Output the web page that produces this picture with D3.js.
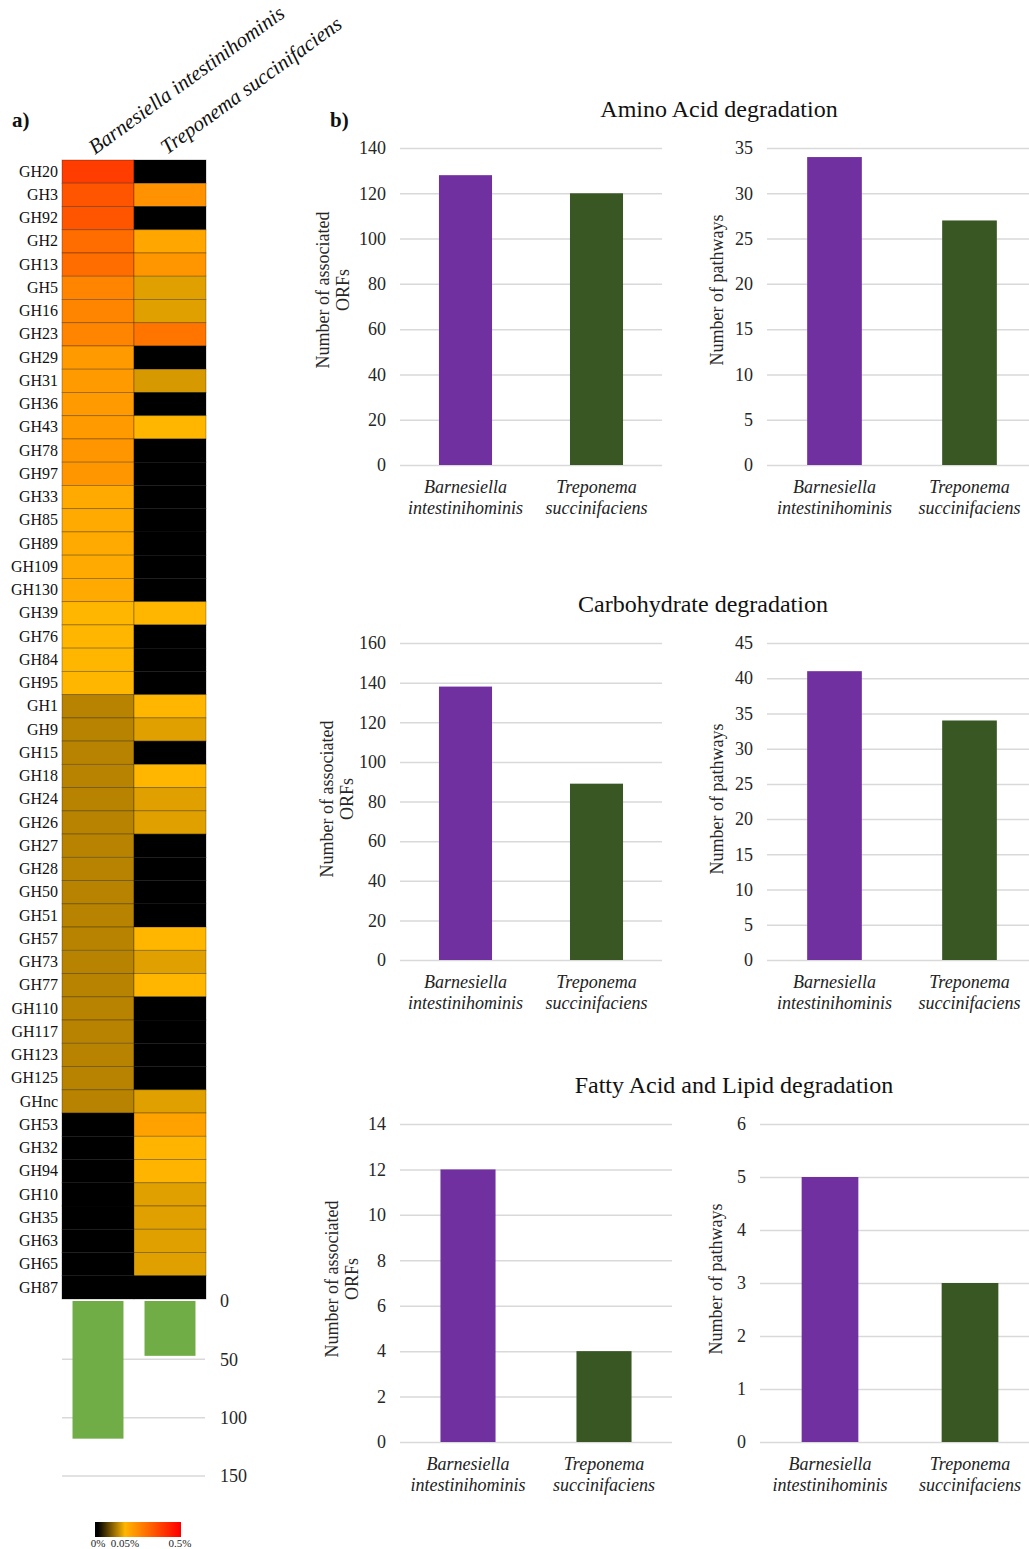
<!DOCTYPE html>
<html>
<head>
<meta charset="utf-8">
<script src="https://cdn.jsdelivr.net/npm/d3@7"></script>
<style>
  body { margin: 0; background: #fff; }
  text { font-family: "Liberation Serif", "Times New Roman", serif; }
</style>
</head>
<body>
<div id="chart"></div>
<script>
const ghFamilies = ["GH20","GH3","GH92","GH2","GH13","GH5","GH16","GH23","GH29","GH31","GH36","GH43",
  "GH78","GH97","GH33","GH85","GH89","GH109","GH130","GH39","GH76","GH84","GH95","GH1","GH9","GH15",
  "GH18","GH24","GH26","GH27","GH28","GH50","GH51","GH57","GH73","GH77","GH110","GH117","GH123",
  "GH125","GHnc","GH53","GH32","GH94","GH10","GH35","GH63","GH65","GH87"];
const species = ["Barnesiella intestinihominis", "Treponema succinifaciens"];
// relative abundance in %
const barnesiellaAbund = [0.35,0.29,0.29,0.23,0.23,0.17,0.17,0.17,0.12,0.12,0.12,0.12,
  0.13,0.13,0.08,0.08,0.08,0.08,0.08,0.05,0.05,0.05,0.05,0.036,0.036,0.036,
  0.036,0.036,0.036,0.036,0.036,0.036,0.036,0.036,0.036,0.036,0.036,0.036,0.036,
  0.036,0.036,0,0,0,0,0,0,0,0];
const treponemaAbund = [0,0.14,0,0.09,0.13,0.044,0.044,0.21,0,0.042,0,0.05,
  0,0,0,0,0,0,0,0.05,0,0,0,0.05,0.044,0,
  0.05,0.044,0.044,0,0,0,0,0.05,0.044,0.05,0,0,0,
  0,0.044,0.1,0.052,0.052,0.044,0.044,0.044,0.044,0];
const ghTotals = [118, 47];
const ghTotalTicks = [0, 50, 100, 150];
const legendTicks = [0, 0.05, 0.5];
const legendLabels = ["0%", "0.05%", "0.5%"];

const categoryLines = [["Barnesiella", "intestinihominis"], ["Treponema", "succinifaciens"]];
const aminoOrfs = [128, 120];
const aminoPathways = [34, 27];
const carbOrfs = [138, 89];
const carbPathways = [41, 34];
const lipidOrfs = [12, 4];
const lipidPathways = [5, 3];

const barColors = ["#7030a0", "#385723"];

const svg = d3.select("#chart")
  .append("svg")
    .attr("width", 1029)
    .attr("height", 1549);

// ---------- a) heatmap ----------
const xCol = d3.scaleBand().domain(species).range([62, 206]);
const yRow = d3.scaleBand().domain(ghFamilies).range([160, 1299]);
const color = d3.scaleLinear()
  .domain([0, 0.05, 0.5])
  .range(["#000000", "#ffb600", "#ff0000"])
  .clamp(true);

const cells = [];
ghFamilies.forEach((g, i) => {
  cells.push({g: g, s: species[0], v: barnesiellaAbund[i]});
  cells.push({g: g, s: species[1], v: treponemaAbund[i]});
});

svg.append("g")
  .selectAll("rect")
  .data(cells)
  .join("rect")
    .attr("x", d => xCol(d.s))
    .attr("y", d => yRow(d.g))
    .attr("width", xCol.bandwidth())
    .attr("height", yRow.bandwidth())
    .attr("fill", d => color(d.v))
    .attr("stroke", "rgba(0,0,0,0.35)")
    .attr("stroke-width", 0.8);

svg.append("g")
  .attr("transform", "translate(62,0)")
  .call(d3.axisLeft(yRow).tickSize(0).tickPadding(4))
  .call(g => g.select(".domain").remove())
  .call(g => g.selectAll("text")
    .attr("font-family", "Liberation Serif, serif")
    .attr("font-size", 16)
    .attr("fill", "#111"));

species.forEach(s => {
  svg.append("text")
    .attr("transform", `translate(${xCol(s) + xCol.bandwidth() / 2 - 3},155) rotate(-36)`)
    .attr("font-size", 21)
    .attr("font-style", "italic")
    .attr("fill", "#111")
    .text(s);
});

svg.append("text").attr("x", 12).attr("y", 127)
  .attr("font-size", 21).attr("font-weight", "bold").attr("fill", "#111").text("a)");
svg.append("text").attr("x", 330).attr("y", 127)
  .attr("font-size", 21).attr("font-weight", "bold").attr("fill", "#111").text("b)");

// totals below heatmap
const xTot = d3.scaleBand().domain(species).range([62, 206]).paddingInner(0.292).paddingOuter(0.146);
const yTot = d3.scaleLinear().domain([0, 150]).range([1301, 1476]);

svg.append("g")
  .selectAll("line")
  .data(ghTotalTicks.filter(t => t > 0))
  .join("line")
    .attr("x1", 62).attr("x2", 205)
    .attr("y1", d => yTot(d)).attr("y2", d => yTot(d))
    .attr("stroke", "#d9d9d9").attr("stroke-width", 1.5);

svg.append("g")
  .selectAll("rect")
  .data(species)
  .join("rect")
    .attr("x", d => xTot(d))
    .attr("y", yTot(0))
    .attr("width", xTot.bandwidth())
    .attr("height", (d, i) => yTot(ghTotals[i]) - yTot(0))
    .attr("fill", "#70ad47");

svg.append("g")
  .attr("transform", "translate(206,0)")
  .call(d3.axisRight(yTot).tickValues(ghTotalTicks).tickSize(0).tickPadding(14))
  .call(g => g.select(".domain").remove())
  .call(g => g.selectAll("text")
    .attr("font-family", "Liberation Serif, serif")
    .attr("font-size", 18)
    .attr("fill", "#262626"));

// colour legend
const legendX = d3.scaleLinear().domain(legendTicks).range([98, 125, 180]);
const grad = svg.append("defs").append("linearGradient")
  .attr("id", "heatgrad")
  .attr("x1", "0%").attr("x2", "100%");
grad.selectAll("stop")
  .data(legendTicks)
  .join("stop")
    .attr("offset", d => (legendX(d) - 95) / 86)
    .attr("stop-color", d => color(d));
svg.append("rect")
  .attr("x", 95).attr("y", 1522)
  .attr("width", 86).attr("height", 15)
  .attr("fill", "url(#heatgrad)");
svg.append("g")
  .selectAll("text")
  .data(legendTicks)
  .join("text")
    .attr("x", d => legendX(d))
    .attr("y", 1547)
    .attr("text-anchor", "middle")
    .attr("font-size", 11)
    .attr("fill", "#222")
    .text((d, i) => legendLabels[i]);

// ---------- b) bar charts ----------
const rows = [
  {title: "Amino Acid degradation", titleX: 719, top: 148, bottom: 465, yTitleY: 290},
  {title: "Carbohydrate degradation", titleX: 703, top: 643, bottom: 960, yTitleY: 799},
  {title: "Fatty Acid and Lipid degradation", titleX: 734, top: 1124, bottom: 1442, yTitleY: 1279}
];

const panels = [
  {row: 0, values: aminoOrfs, max: 140, step: 20, gx0: 400, gx1: 662, bx1: 662, yTitle: ["Number of associated", "ORFs"], yTitleX: 323},
  {row: 0, values: aminoPathways, max: 35, step: 5, gx0: 767, gx1: 1029, bx1: 1037, yTitle: ["Number of pathways"], yTitleX: 717},
  {row: 1, values: carbOrfs, max: 160, step: 20, gx0: 400, gx1: 662, bx1: 662, yTitle: ["Number of associated", "ORFs"], yTitleX: 327},
  {row: 1, values: carbPathways, max: 45, step: 5, gx0: 767, gx1: 1029, bx1: 1037, yTitle: ["Number of pathways"], yTitleX: 717},
  {row: 2, values: lipidOrfs, max: 14, step: 2, gx0: 400, gx1: 672, bx1: 672, yTitle: ["Number of associated", "ORFs"], yTitleX: 332},
  {row: 2, values: lipidPathways, max: 6, step: 1, gx0: 760, gx1: 1029, bx1: 1040, yTitle: ["Number of pathways"], yTitleX: 716}
];

rows.forEach(r => {
  svg.append("text")
    .attr("x", r.titleX).attr("y", r.top - 31)
    .attr("text-anchor", "middle")
    .attr("font-size", 24)
    .attr("fill", "#111")
    .text(r.title);
});

panels.forEach(p => {
  const r = rows[p.row];
  const x = d3.scaleBand().domain(species).range([p.gx0, p.bx1])
    .paddingInner(0.595).paddingOuter(0.2975);
  const y = d3.scaleLinear().domain([0, p.max]).range([r.bottom, r.top]);
  const g = svg.append("g");

  g.append("g")
    .attr("transform", `translate(${p.gx0},0)`)
    .call(d3.axisLeft(y)
      .tickValues(d3.range(0, p.max + p.step / 2, p.step))
      .tickFormat(d3.format("d"))
      .tickSize(-(p.gx1 - p.gx0))
      .tickPadding(14))
    .call(g => g.select(".domain").remove())
    .call(g => g.selectAll(".tick line").attr("stroke", "#d9d9d9").attr("stroke-width", 1.5))
    .call(g => g.selectAll("text")
      .attr("font-family", "Liberation Serif, serif")
      .attr("font-size", 18)
      .attr("fill", "#262626"));

  g.selectAll(".bar")
    .data(species)
    .join("rect")
      .attr("class", "bar")
      .attr("x", d => x(d))
      .attr("y", (d, i) => y(p.values[i]))
      .attr("width", x.bandwidth())
      .attr("height", (d, i) => y(0) - y(p.values[i]))
      .attr("fill", (d, i) => barColors[i]);

  species.forEach((s, i) => {
    const t = g.append("text")
      .attr("text-anchor", "middle")
      .attr("font-size", 18)
      .attr("font-style", "italic")
      .attr("fill", "#222");
    categoryLines[i].forEach((line, k) => {
      t.append("tspan")
        .attr("x", x(s) + x.bandwidth() / 2)
        .attr("y", r.bottom + 28 + k * 21)
        .text(line);
    });
  });

  const yt = g.append("text")
    .attr("transform", `translate(${p.yTitleX + 6},${r.yTitleY}) rotate(-90)`)
    .attr("text-anchor", "middle")
    .attr("font-size", 18)
    .attr("fill", "#262626");
  p.yTitle.forEach((line, k) => {
    yt.append("tspan").attr("x", 0).attr("y", k * 20).text(line);
  });
});
</script>
</body>
</html>
